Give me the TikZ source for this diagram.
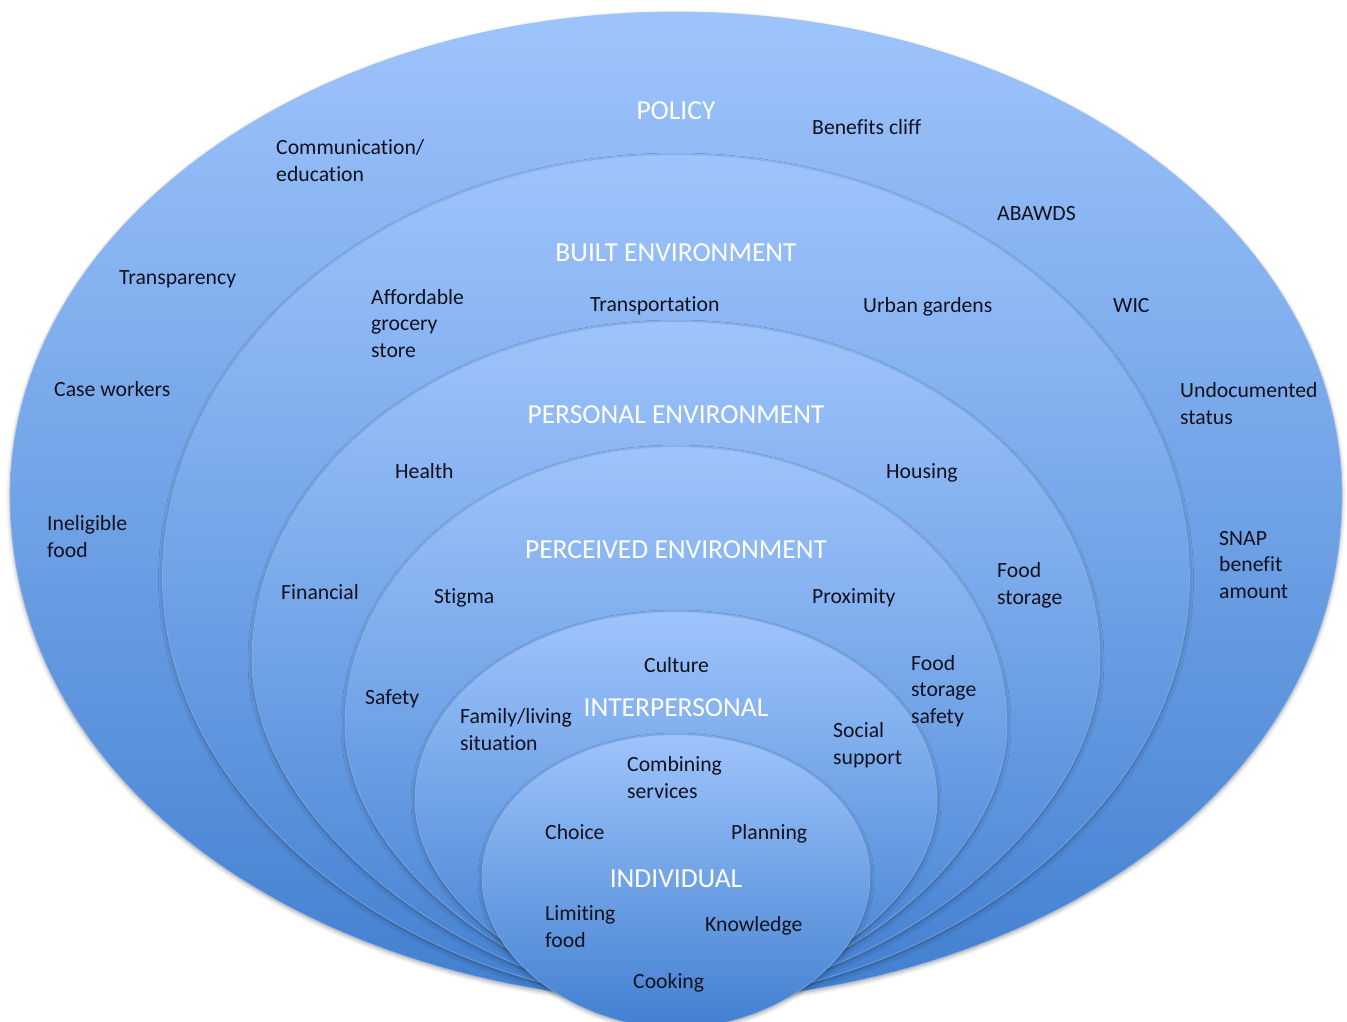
\documentclass[tikz,border=0pt]{standalone}
\usepackage{fontspec}
\setmainfont{Carlito}[Ligatures=NoCommon]
\usetikzlibrary{shadows.blur}

\definecolor{layertop}{RGB}{158,196,252}
\definecolor{layerbot}{RGB}{66,128,208}
\definecolor{layeredge}{RGB}{150,186,240}
\definecolor{labelink}{RGB}{18,18,30}

% Egg-shaped layer: #1 half width, #2 top y, #3 y of widest point,
% #4 bottom tip y, #5/#6 shape factors of the lower curve,
% #7 y of the lower control points next to the tip
\newcommand\eggpath[7]{%
  (676,#4) .. controls ({676-#6*#1},#7) and ({676-#1},{#3+#5*(#4-#3)}) .. ({676-#1},#3)
  .. controls ({676-#1},{#3-0.5523*(#3-#2)}) and ({676-0.5523*#1},#2) .. (676,#2)
  .. controls ({676+0.5523*#1},#2) and ({676+#1},{#3-0.5523*(#3-#2)}) .. ({676+#1},#3)
  .. controls ({676+#1},{#3+#5*(#4-#3)}) and ({676+#6*#1},#7) .. (676,#4) -- cycle}

\tikzset{
  layer/.style={top color=layertop, bottom color=layerbot,
    draw=layeredge, draw opacity=0.6, line width=0.8pt,
    blur shadow={shadow xshift=0pt, shadow yshift=-2pt, shadow blur radius=4pt, shadow opacity=35}},
  lbl/.style={anchor=base west, align=left, inner sep=0pt, text=labelink,
    font=\fontsize{21.7}{26.5}\selectfont},
  head/.style={anchor=base, inner sep=0pt, text=white,
    font=\fontsize{27.5}{33}\selectfont}
}

\begin{document}
\begin{tikzpicture}[x=1pt, y=-1pt]
\useasboundingbox (0,0) rectangle (1347,1021);

% nested layers, outermost first
\path[layer] \eggpath{666}{12}{495}{1002}{0.6}{0.52}{995};
\path[layer] \eggpath{513.5}{155}{578}{1002}{0.55}{0.5}{995};
\path[layer] \eggpath{424}{322}{660}{1002}{0.5}{0.45}{995};
\path[layer] \eggpath{331}{447}{725}{1002}{0.5}{0.45}{995};
\path[layer] \eggpath{261}{612}{800}{1002}{0.52}{0.47}{995};
\path[layer] \eggpath{194}{735}{877}{1028}{0.55}{0.5}{1028};

% layer titles
\node[head] (policy) at (676,119) {POLICY};
\node[head] (built) at (676,261) {BUILT ENVIRONMENT};
\node[head] (personal) at (676,423) {PERSONAL ENVIRONMENT};
\node[head] (perceived) at (676,558) {PERCEIVED ENVIRONMENT};
\node[head] (interpersonal) at (676,716) {INTERPERSONAL};
\node[head] (individual) at (676,887) {INDIVIDUAL};

% policy (multi-line labels are placed by the baseline of their last line)
\node[lbl] (cliff) at (812,134) {Benefits cliff};
\node[lbl] (comm) at (276,181) {Communication/\\education};
\node[lbl] (abawds) at (997,220) {ABAWDS};
\node[lbl] (transp) at (119,284) {Transparency};
\node[lbl] (wic) at (1113,312) {WIC};
\node[lbl] (case) at (54,396) {Case workers};
\node[lbl] (undoc) at (1180,424) {Undocumented\\status};
\node[lbl] (inelig) at (47,557) {Ineligible\\food};
\node[lbl] (snap) at (1219,598) {SNAP\\benefit\\amount};

% built environment
\node[lbl] (grocery) at (371,357) {Affordable\\grocery\\store};
\node[lbl] (transport) at (590,311) {Transportation};
\node[lbl] (garden) at (863,312) {Urban gardens};

% personal environment
\node[lbl] (health) at (395,478) {Health};
\node[lbl] (housing) at (886,478) {Housing};
\node[lbl] (foodstor) at (997,604) {Food\\storage};
\node[lbl] (financial) at (281,599) {Financial};

% perceived environment
\node[lbl] (stigma) at (434,603) {Stigma};
\node[lbl] (proximity) at (812,603) {Proximity};
\node[lbl] (storsafe) at (911,723) {Food\\storage\\safety};
\node[lbl] (safety) at (365,704) {Safety};

% interpersonal
\node[lbl] (culture) at (644,672) {Culture};
\node[lbl] (family) at (460,750) {Family/living\\situation};
\node[lbl] (social) at (833,764) {Social\\support};
\node[lbl] (combine) at (627,798) {Combining\\services};

% individual
\node[lbl] (choice) at (545,839) {Choice};
\node[lbl] (planning) at (731,839) {Planning};
\node[lbl] (limiting) at (545,947) {Limiting\\food};
\node[lbl] (knowledge) at (705,931) {Knowledge};
\node[lbl] (cooking) at (633,988) {Cooking};
\end{tikzpicture}
\end{document}
